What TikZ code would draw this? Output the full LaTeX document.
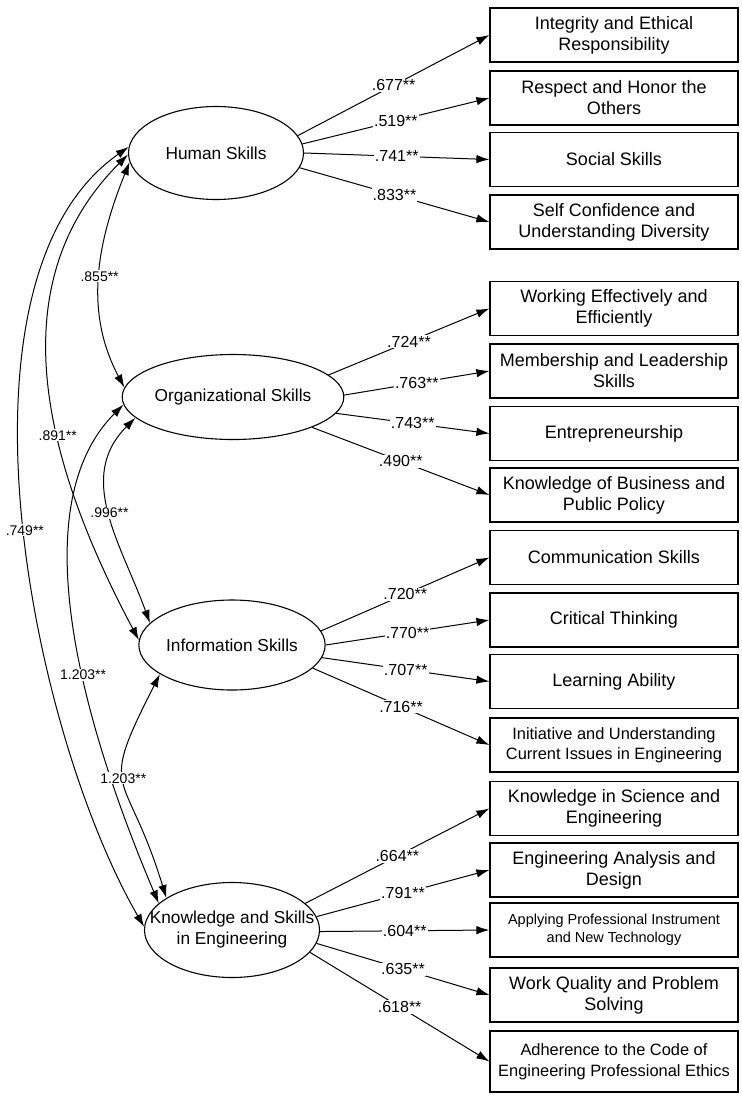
\documentclass[tikz,border=0pt]{standalone}
\usepackage{fontspec}
\setmainfont{Liberation Sans}
\usetikzlibrary{arrows.meta,shapes.geometric}

\tikzset{
  latent/.style={ellipse, draw, line width=1.1pt, minimum width=175pt, minimum height=93pt, inner sep=0pt, font=\fontsize{17.3}{21}\selectfont},
  indicator/.style={draw, line width=1.2pt, minimum width=248pt, minimum height=54pt, inner sep=0pt, align=center, font=\fontsize{18}{21}\selectfont},
  load/.style={->, line width=1pt},
  cov/.style={<->, line width=1pt},
  coef/.style={fill=white, inner sep=1pt, font=\fontsize{16}{16}\selectfont},
  covcoef/.style={fill=white, inner sep=1pt, font=\fontsize{14}{14}\selectfont},
}

\begin{document}
\begin{tikzpicture}[x=1pt, y=1pt, >={Latex[length=13pt,width=8.5pt]}]
            \useasboundingbox (0,0) rectangle (742,-1101);

            \node[latent] (hs) at (216,-153) {Human Skills};
            \node[latent, minimum width=173pt, minimum height=85pt] (os) at (233,-397) {Organizational Skills};
            \node[latent, minimum width=172pt, minimum height=90pt] (is) at (232,-645) {Information Skills};
            \node[latent, minimum height=95pt] (ke) at (232,-930) {};
            \node[align=center, font=\fontsize{17.3}{21}\selectfont] (ket) at (ke) {Knowledge and Skills\\in Engineering};

            \node[indicator] (h1) at (614,-35) {Integrity and Ethical\\Responsibility};
            \node[indicator] (h2) at (614,-98) {Respect and Honor the\\Others};
            \node[indicator] (h3) at (614,-159.5) {Social Skills};
            \node[indicator] (h4) at (614,-222) {Self Confidence and\\Understanding Diversity};

            \node[indicator] (o1) at (614,-308.5) {Working Effectively and\\Efficiently};
            \node[indicator] (o2) at (614,-371) {Membership and Leadership\\Skills};
            \node[indicator] (o3) at (614,-433.5) {Entrepreneurship};
            \node[indicator] (o4) at (614,-495) {Knowledge of Business and\\Public Policy};

            \node[indicator] (i1) at (614,-557.5) {Communication Skills};
            \node[indicator] (i2) at (614,-620) {Critical Thinking};
            \node[indicator] (i3) at (614,-681.5) {Learning Ability};
            \node[indicator, font=\fontsize{16.4}{20}\selectfont] (i4) at (614,-745) {Initiative and Understanding\\Current Issues in Engineering};

            \node[indicator] (k1) at (614,-808.5) {Knowledge in Science and\\Engineering};
            \node[indicator] (k2) at (614,-870) {Engineering Analysis and\\Design};
            \node[indicator, font=\fontsize{14.5}{18}\selectfont] (k3) at (614,-930) {Applying Professional Instrument\\and New Technology};
            \node[indicator] (k4) at (614,-995) {Work Quality and Problem\\Solving};
            \node[indicator, minimum height=61pt, font=\fontsize{16.4}{21}\selectfont] (k5) at (614,-1061.5) {Adherence to the Code of\\Engineering Professional Ethics};

            \draw[load] (hs.12) to node[coef] {.677**} (h1.west);
            \draw[load] (hs.6) to node[coef] {.519**} (h2.west);
            \draw[load] (hs.0) to node[coef] {.741**} (h3.west);
            \draw[load] (hs.-10) to node[coef] {.833**} (h4.west);

            \draw[load] (os.13) to node[coef] {.724**} (o1.west);
            \draw[load] (os.1) to node[coef] {.763**} (o2.west);
            \draw[load] (os.-9) to node[coef] {.743**} (o3.west);
            \draw[load] (os.-21) to node[coef] {.490**} (o4.west);

            \draw[load] (is.9) to node[coef] {.720**} (i1.west);
            \draw[load] (is.0) to node[coef] {.770**} (i2.west);
            \draw[load] (is.-8) to node[coef] {.707**} (i3.west);
            \draw[load] (is.-16) to node[coef] {.716**} (i4.west);

            \draw[load] (ke.20) to node[coef] {.664**} (k1.west);
            \draw[load] (ke.9) to node[coef] {.791**} (k2.west);
            \draw[load] (ke.-1) to node[coef] {.604**} (k3.west);
            \draw[load] (ke.-9) to node[coef] {.635**} (k4.west);
            \draw[load] (ke.-16) to node[coef] {.618**} (k5.west);

            \draw[cov] (hs.186) to[out=248, in=118, looseness=0.98] node[covcoef] {.855**} (os.175);
            \draw[cov] (hs.181) to[out=225, in=118] node[covcoef, pos=0.6] {.891**} (is.177);
            \draw[cov] (hs.176) to[out=215, in=120, looseness=0.75] node[covcoef, pos=0.52] {.749**} (ke.178);
            \draw[cov] (os.192) to[out=225, in=110, looseness=1.05] node[covcoef] {.996**} (is.165);
            \draw[cov] (os.184) to[out=225, in=113, looseness=0.8] node[covcoef, pos=0.56] {1.203**} (ke.160);
            \draw[cov] (is.202) to[out=243, in=107, looseness=1.6] node[covcoef, pos=0.47] {1.203**} (ke.154);
        \end{tikzpicture}
\end{document}
